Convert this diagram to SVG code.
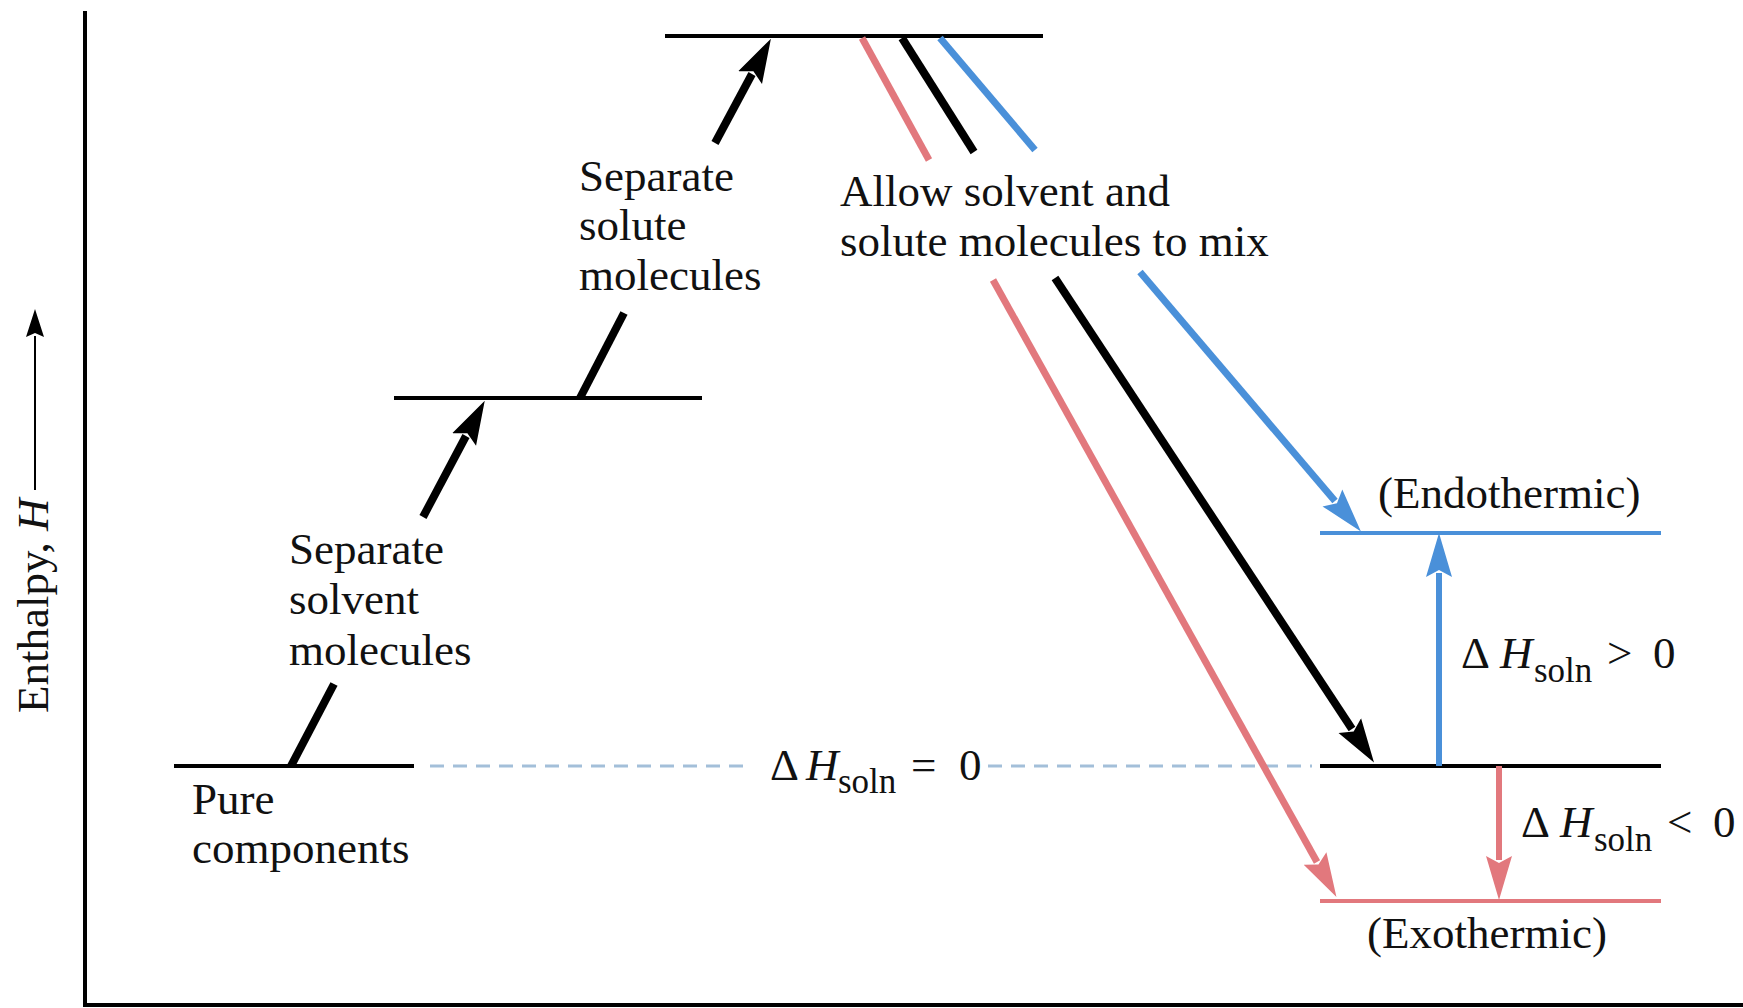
<svg xmlns="http://www.w3.org/2000/svg" width="1743" height="1008" viewBox="0 0 1743 1008">
<defs>
<style>
.t{font-family:"Liberation Serif","Times New Roman",serif;font-size:45px;fill:#111}
.sub{font-size:35px}
.it{font-style:italic}
.lvl{stroke-width:4;fill:none}
.k{stroke:#000}
.r{stroke:#e2787d}
.b{stroke:#4a90d9}
.arr{stroke-width:8;fill:none;stroke-linecap:butt}
.c{stroke-width:7}
.v{stroke-width:6}
</style>
<marker id="hk" markerUnits="userSpaceOnUse" viewBox="0 -15 44 30" markerWidth="44" markerHeight="30" refX="4" refY="0" orient="auto"><path d="M0,-13.5 L44,0 L0,13.5 L7,0 Z" fill="#000"/></marker>
<marker id="hr" markerUnits="userSpaceOnUse" viewBox="0 -15 44 30" markerWidth="44" markerHeight="30" refX="4" refY="0" orient="auto"><path d="M0,-13 L44,0 L0,13 L7,0 Z" fill="#e2787d"/></marker>
<marker id="hb" markerUnits="userSpaceOnUse" viewBox="0 -15 44 30" markerWidth="44" markerHeight="30" refX="4" refY="0" orient="auto"><path d="M0,-13 L44,0 L0,13 L7,0 Z" fill="#4a90d9"/></marker>
<marker id="hs" markerUnits="userSpaceOnUse" viewBox="0 -10 28 20" markerWidth="28" markerHeight="20" refX="1" refY="0" orient="auto"><path d="M0,-9 L28,0 L0,9 L4,0 Z" fill="#000"/></marker>
</defs>
<rect width="1743" height="1008" fill="#fff"/>

<g id="axes">
<path d="M85,11 V1005 H1743" fill="none" stroke="#000" stroke-width="4"/>
<line x1="35" y1="490" x2="35" y2="336" stroke="#000" stroke-width="2" marker-end="url(#hs)"/>
<text class="t" transform="translate(48,713) rotate(-90)">Enthalpy, <tspan class="it">H</tspan></text>
</g>

<g id="level-pure">
<line class="lvl k" x1="174" y1="766" x2="414" y2="766"/>
<text class="t" x="192" y="814">Pure</text>
<text class="t" x="192" y="863">components</text>
</g>

<g id="level-solvent-separated">
<line class="lvl k" x1="394" y1="398" x2="702" y2="398"/>
</g>

<g id="level-solute-separated">
<line class="lvl k" x1="665" y1="36" x2="1043" y2="36"/>
</g>

<g id="level-ideal">
<line class="lvl k" x1="1320" y1="766" x2="1661" y2="766"/>
</g>

<g id="level-endothermic">
<line class="lvl b" x1="1320" y1="533" x2="1661" y2="533"/>
<text class="t" x="1378" y="508">(Endothermic)</text>
</g>

<g id="level-exothermic">
<line class="lvl r" x1="1320" y1="901" x2="1661" y2="901"/>
<text class="t" x="1367" y="948">(Exothermic)</text>
</g>

<g id="labels">
<text class="t" x="289" y="564">Separate</text>
<text class="t" x="289" y="614">solvent</text>
<text class="t" x="289" y="665">molecules</text>
<text class="t" x="579" y="191">Separate</text>
<text class="t" x="579" y="240">solute</text>
<text class="t" x="579" y="290">molecules</text>
<text class="t" x="840" y="206">Allow solvent and</text>
<text class="t" x="840" y="256">solute molecules to mix</text>
<text class="t"><tspan x="770" y="780">Δ</tspan><tspan class="it" x="806" y="780">H</tspan><tspan class="sub" x="838" y="793">soln</tspan><tspan x="911" y="780">=</tspan><tspan x="959" y="780">0</tspan></text>
<text class="t"><tspan x="1461" y="668">Δ</tspan><tspan class="it" x="1500" y="668">H</tspan><tspan class="sub" x="1534" y="682">soln</tspan><tspan x="1607" y="668">&gt;</tspan><tspan x="1653" y="668">0</tspan></text>
<text class="t"><tspan x="1521" y="837">Δ</tspan><tspan class="it" x="1560" y="837">H</tspan><tspan class="sub" x="1594" y="851">soln</tspan><tspan x="1667" y="837">&lt;</tspan><tspan x="1713" y="837">0</tspan></text>
</g>

<g id="connectors">
<line x1="430" y1="766" x2="752" y2="766" stroke="#a3bfd9" stroke-width="3" stroke-dasharray="14 9"/>
<line x1="988" y1="766" x2="1312" y2="766" stroke="#a3bfd9" stroke-width="3" stroke-dasharray="14 9"/>
<line class="arr k" x1="291" y1="766" x2="334" y2="684"/>
<line class="arr k" x1="423" y1="517" x2="466" y2="436" marker-end="url(#hk)"/>
<line class="arr k" x1="580" y1="398" x2="624" y2="313"/>
<line class="arr k" x1="715" y1="143" x2="752" y2="74" marker-end="url(#hk)"/>
<line class="arr r c" x1="862" y1="38" x2="929" y2="160"/>
<line class="arr k" x1="902" y1="38" x2="974" y2="152"/>
<line class="arr b c" x1="940" y1="38" x2="1035" y2="150"/>
<line class="arr r c" x1="993" y1="280" x2="1317" y2="862" marker-end="url(#hr)"/>
<line class="arr k" x1="1055" y1="278" x2="1352" y2="729" marker-end="url(#hk)"/>
<line class="arr b c" x1="1140" y1="272" x2="1335" y2="501" marker-end="url(#hb)"/>
<line class="arr b v" x1="1439" y1="766" x2="1439" y2="573" marker-end="url(#hb)"/>
<line class="arr r v" x1="1499" y1="766" x2="1499" y2="860" marker-end="url(#hr)"/>
</g>
</svg>
